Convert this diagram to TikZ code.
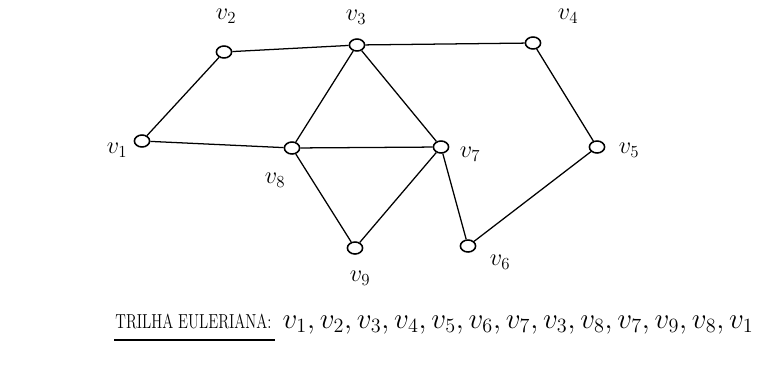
\documentclass[tikz,border=0pt]{standalone}
\usetikzlibrary{shapes.geometric}
\begin{document}
\begin{tikzpicture}[x=0.025cm,y=-0.025cm,line width=0.9pt,every node/.style={font=\LARGE},
  vert/.style={draw,ellipse,line width=1.1pt,minimum width=0.38cm,minimum height=0.3cm,inner sep=0pt}]
\useasboundingbox (0,0) rectangle (767,369);
% vertices
\node[vert] (v1) at (142,141) {};
\node[vert] (v2) at (224,52) {};
\node[vert] (v3) at (357,45) {};
\node[vert] (v4) at (533,43) {};
\node[vert] (v5) at (597,147) {};
\node[vert] (v6) at (468,246) {};
\node[vert] (v7) at (441,147) {};
\node[vert] (v8) at (292,148) {};
\node[vert] (v9) at (355,248) {};
% labels
\node (l1) at (117,150) {$v_1$};
\node (l2) at (226,16) {$v_2$};
\node (l3) at (356,17) {$v_3$};
\node (l4) at (568,16) {$v_4$};
\node (l5) at (629,150) {$v_5$};
\node (l6) at (500,262) {$v_6$};
\node (l7) at (470,154) {$v_7$};
\node (l8) at (275,180) {$v_8$};
\node (l9) at (360,278) {$v_9$};
% edges
\draw (v1) -- (v2);
\draw (v2) -- (v3);
\draw (v3) -- (v4);
\draw (v4) -- (v5);
\draw (v5) -- (v6);
\draw (v6) -- (v7);
\draw (v7) -- (v3);
\draw (v3) -- (v8);
\draw (v8) -- (v7);
\draw (v7) -- (v9);
\draw (v9) -- (v8);
\draw (v8) -- (v1);
% trail
\node[anchor=base west,font=\Large,inner sep=2pt] (tt) at (112,328) {\scalebox{0.74}[1]{TRILHA EULERIANA:}};
\node[anchor=base west,font=\huge,inner sep=2pt] (seq) at ([xshift=3pt]tt.base east) {$v_1,v_2,v_3,v_4,v_5,v_6,v_7,v_3,v_8,v_7,v_9,v_8,v_1$};
\draw (tt.south west) ++(2,8) coordinate (u1) -- (u1 -| tt.south east);
\end{tikzpicture}
\end{document}
